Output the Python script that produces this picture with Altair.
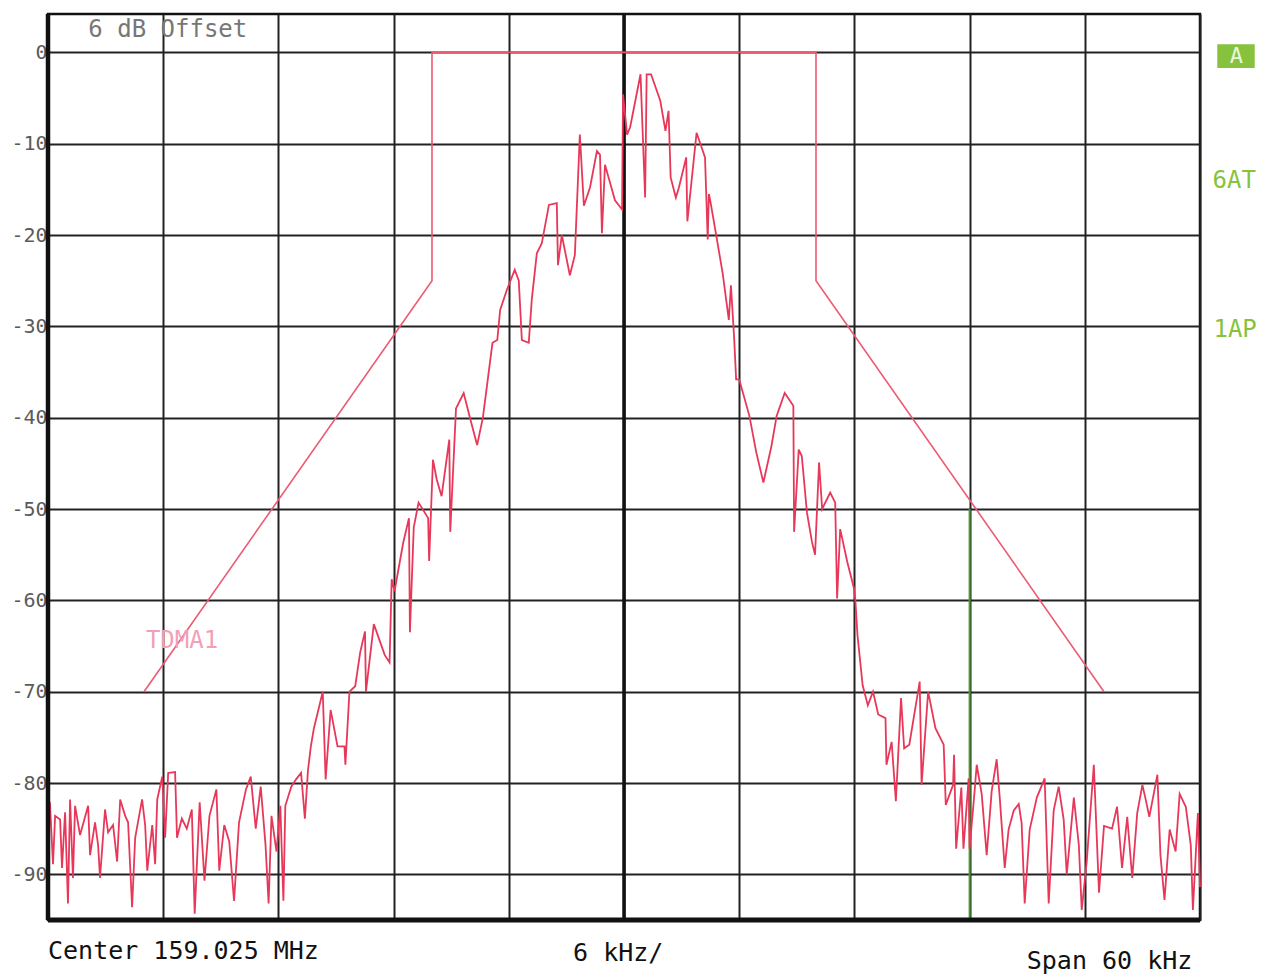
import altair as alt
import pandas as pd

# ---------------- data ----------------
freq_khz = [
    -29.9, -29.74, -29.63, -29.37, -29.27, -29.11, -28.96, -28.85, -28.7, -28.59,
    -28.33, -27.91, -27.81, -27.55, -27.39, -27.29, -27.03, -26.87, -26.61, -26.4,
    -26.24, -25.98, -25.83, -25.62, -25.46, -25.1, -24.94, -24.83, -24.57, -24.42,
    -24.31, -24.05, -23.9, -23.74, -23.38, -23.28, -23.03, -22.77, -22.51, -22.36,
    -22.1, -21.85, -21.59, -21.23, -21.08, -20.82, -20.56, -20.31, -20.05, -19.69,
    -19.44, -19.18, -18.92, -18.67, -18.51, -18.36, -18.1, -17.9, -17.74, -17.64,
    -17.33, -17.08, -16.82, -16.62, -16.46, -16.31, -16.15, -15.69, -15.54, -15.28,
    -14.92, -14.56, -14.51, -14.3, -14.0, -13.74, -13.49, -13.44, -13.03, -12.46,
    -12.21, -12.1, -11.95, -11.5, -11.2, -11.15, -10.95, -10.7, -10.2, -10.15,
    -9.95, -9.75, -9.5, -9.1, -9.05, -8.75, -8.35, -8.0, -7.65, -7.35,
    -6.85, -6.6, -6.45, -6.1, -5.69, -5.48, -5.32, -4.96, -4.8, -4.54,
    -4.28, -3.91, -3.5, -3.44, -3.24, -2.82, -2.56, -2.3, -2.09, -1.77,
    -1.41, -1.25, -1.15, -0.99, -0.47, -0.1, -0.05, 0.16, 0.32, 0.86,
    1.1, 1.18, 1.41, 1.89, 2.16, 2.32, 2.43, 2.7, 2.86, 3.24,
    3.3, 3.78, 4.22, 4.36, 4.42, 4.49, 4.76, 5.14, 5.46, 5.57,
    5.73, 5.84, 6.0, 6.53, 6.89, 7.26, 7.68, 7.95, 8.37, 8.82,
    8.86, 9.1, 9.26, 9.53, 9.79, 9.95, 10.16, 10.32, 10.74, 11.0,
    11.1, 11.26, 11.63, 11.98, 12.05, 12.16, 12.43, 12.7, 12.97, 13.24,
    13.62, 13.67, 13.94, 14.16, 14.43, 14.59, 14.86, 15.4, 15.5, 15.84,
    16.22, 16.65, 16.76, 17.14, 17.19, 17.3, 17.57, 17.68, 17.95, 18.0,
    18.26, 18.37, 18.63, 18.89, 19.15, 19.41, 19.57, 19.83, 20.03, 20.3,
    20.56, 20.71, 20.87, 21.13, 21.5, 21.91, 22.12, 22.38, 22.64, 22.9,
    23.06, 23.43, 23.69, 23.84, 24.1, 24.47, 24.74, 25.0, 25.42, 25.68,
    25.94, 26.21, 26.47, 26.73, 27.0, 27.15, 27.36, 27.78, 27.94, 28.15,
    28.42, 28.73, 28.94, 29.26, 29.52, 29.63, 29.89, 30.0,
]
level_db = [
    -82.1, -88.9, -83.6, -84, -89.3, -83.2, -93.2, -81.8, -90.4, -82.5,
    -85.7, -82.5, -87.9, -84.3, -86.8, -90.4, -82.9, -85.4, -84.6, -88.6,
    -81.8, -83.6, -84.3, -93.6, -86, -81.8, -84.6, -89.6, -84.6, -88.9,
    -81.8, -79.3, -86, -78.9, -78.8, -86, -83.9, -85, -82.9, -94.3,
    -82.1, -90.7, -83.6, -80.7, -89.6, -84.6, -86.4, -92.9, -84.3, -80.7,
    -79.3, -85, -80.4, -86.8, -93.2, -83.6, -87.5, -82.5, -92.9, -82.5,
    -80.4, -79.6, -78.9, -83.9, -78.6, -76, -74, -70, -79.6, -72,
    -76, -76, -78, -70, -69.4, -65.7, -63.4, -70, -62.6, -66,
    -66.8, -57.7, -59, -53.7, -51, -63.5, -52, -49.3, -51, -55.7,
    -44.6, -46.8, -48.6, -42.4, -52.5, -39, -37.3, -40.2, -43, -40,
    -31.8, -31.5, -28.2, -26, -23.8, -25, -31.5, -31.8, -27, -22,
    -20.9, -16.7, -16.5, -23.3, -20, -24.4, -22.2, -9, -16.8, -14.8,
    -10.8, -11.2, -19.8, -12.3, -16.2, -17.2, -4.6, -9, -8.2, -2.4,
    -15.9, -2.4, -2.4, -5.3, -8.6, -6.4, -13.7, -15.9, -14.8, -11.5,
    -18.5, -8.8, -11.5, -20.5, -15.5, -16.2, -19.5, -24.2, -29.3, -25.5,
    -31, -35.8, -35.8, -39.8, -43.8, -47.1, -43.1, -39.8, -37.3, -38.7,
    -52.5, -43.5, -44.2, -50.4, -53.6, -55, -44.9, -50, -48.2, -49.3,
    -59.8, -52.2, -55.8, -58.7, -60, -63.8, -69.3, -71.5, -70, -72.5,
    -72.9, -78, -75.5, -82, -70.7, -76.2, -75.8, -68.9, -80.2, -70,
    -74, -75.8, -82.4, -80.2, -76.9, -87.2, -80.5, -87.2, -79.5, -87.2,
    -80.9, -78, -81.2, -87.9, -80.9, -77.4, -81.6, -89.3, -85.1, -83,
    -82.3, -84.4, -93.2, -85.1, -81.6, -79.5, -93.2, -83, -80.4, -84,
    -90, -81.6, -86.8, -93.9, -88.6, -78, -92, -84.7, -85, -82.6,
    -89.3, -83.7, -90.4, -83.3, -80.2, -81.6, -83.7, -79.1, -87.9, -92.8,
    -85.1, -87.5, -81.2, -82.6, -86.8, -93.9, -83.3, -91.4,
]

mask_khz = [-25, -10, -10, 10, 10, 25]
mask_db = [-70, -25, 0, 0, -25, -70]

x_ticks = [-30, -24, -18, -12, -6, 0, 6, 12, 18, 24, 30]
y_ticks = [0, -10, -20, -30, -40, -50, -60, -70, -80, -90]

X_DOMAIN = [-30, 30]
Y_DOMAIN = [-95, 4.2]

FONT = "DejaVu Sans Mono"
TRACE_RED = "#e8385a"
MASK_RED = "#ec5a74"
GREEN = "#86c23c"

# ---------------- chart ----------------
trace_df = pd.DataFrame({"f": freq_khz, "db": level_db, "i": range(len(freq_khz))})
mask_df = pd.DataFrame({"f": mask_khz, "db": mask_db, "i": range(len(mask_khz))})

xs = alt.Scale(domain=X_DOMAIN, nice=False, zero=False)
ys = alt.Scale(domain=Y_DOMAIN, nice=False, zero=False)

x_axis = alt.Axis(values=x_ticks, grid=True, gridColor="#222222", gridWidth=2,
                  labels=False, ticks=False, domain=False, title=None)
y_axis = alt.Axis(values=y_ticks, grid=True, gridColor="#222222", gridWidth=2,
                  labelFont=FONT, labelFontSize=20, labelColor="#5a5a5a",
                  labelPadding=1, ticks=False, domain=False, title=None,
                  labelExpr="datum.value == 0 ? '0' : '-' + abs(datum.value)")

base_grid = alt.Chart(pd.DataFrame({"f": [0], "db": [0]})).mark_point(opacity=0).encode(
    x=alt.X("f:Q", scale=xs, axis=x_axis),
    y=alt.Y("db:Q", scale=ys, axis=y_axis),
)

center_rule = alt.Chart(pd.DataFrame({"f": [0]})).mark_rule(
    color="#111111", strokeWidth=3.5).encode(x=alt.X("f:Q", scale=xs))

green_rule = alt.Chart(pd.DataFrame({"f": [18], "y1": [-50], "y2": [-95]})).mark_rule(
    color="#4f9a35", strokeWidth=2).encode(
    x=alt.X("f:Q", scale=xs), y=alt.Y("y1:Q", scale=ys), y2="y2:Q")

mask = alt.Chart(mask_df).mark_line(color=MASK_RED, strokeWidth=1.6).encode(
    x=alt.X("f:Q", scale=xs), y=alt.Y("db:Q", scale=ys), order="i:Q")

trace = alt.Chart(trace_df).mark_line(color=TRACE_RED, strokeWidth=1.8).encode(
    x=alt.X("f:Q", scale=xs), y=alt.Y("db:Q", scale=ys), order="i:Q")

left_border = alt.Chart(pd.DataFrame({"f": [-30]})).mark_rule(
    color="#111111", strokeWidth=4.5).encode(x=alt.X("f:Q", scale=xs))
bottom_border = alt.Chart(pd.DataFrame({"db": [-95]})).mark_rule(
    color="#111111", strokeWidth=5).encode(y=alt.Y("db:Q", scale=ys))


def label(text, f, db, color, size=24, align="left"):
    return alt.Chart(pd.DataFrame({"f": [f], "db": [db], "t": [text]})).mark_text(
        font=FONT, fontSize=size, color=color, align=align, baseline="middle"
    ).encode(x=alt.X("f:Q", scale=xs), y=alt.Y("db:Q", scale=ys), text="t:N")


box_A = alt.Chart(pd.DataFrame({"f1": [30.9], "f2": [32.85], "y1": [0.9], "y2": [-1.7]})).mark_rect(
    color=GREEN).encode(x=alt.X("f1:Q", scale=xs), x2="f2:Q", y=alt.Y("y1:Q", scale=ys), y2="y2:Q")

texts = [
    label("6 dB Offset", -27.9, 2.5, "#777777", 24),
    label("Center 159.025 MHz", -30, -98.4, "#111111", 25),
    label("6 kHz/", -0.3, -98.6, "#111111", 25, "center"),
    label("Span 60 kHz", 29.6, -99.5, "#111111", 25, "right"),
    label("TDMA1", -24.9, -64.5, "#f2a0b6", 24),
    label("A", 31.9, -0.4, "#eaf6dc", 22, "center"),
    label("6AT", 30.65, -14.1, GREEN, 24),
    label("1AP", 30.7, -30.4, GREEN, 24),
]

chart = alt.layer(
    base_grid, center_rule, green_rule, mask, trace, left_border, bottom_border, box_A, *texts
).properties(
    width=1152, height=906,
    autosize=alt.AutoSizeParams(type="none"),
    padding={"left": 48, "top": 14, "right": 73, "bottom": 56},
    background="white",
).configure_view(stroke="#111111", strokeWidth=2.5)

chart.save("out.html", embed_options={"renderer": "svg", "actions": False})
